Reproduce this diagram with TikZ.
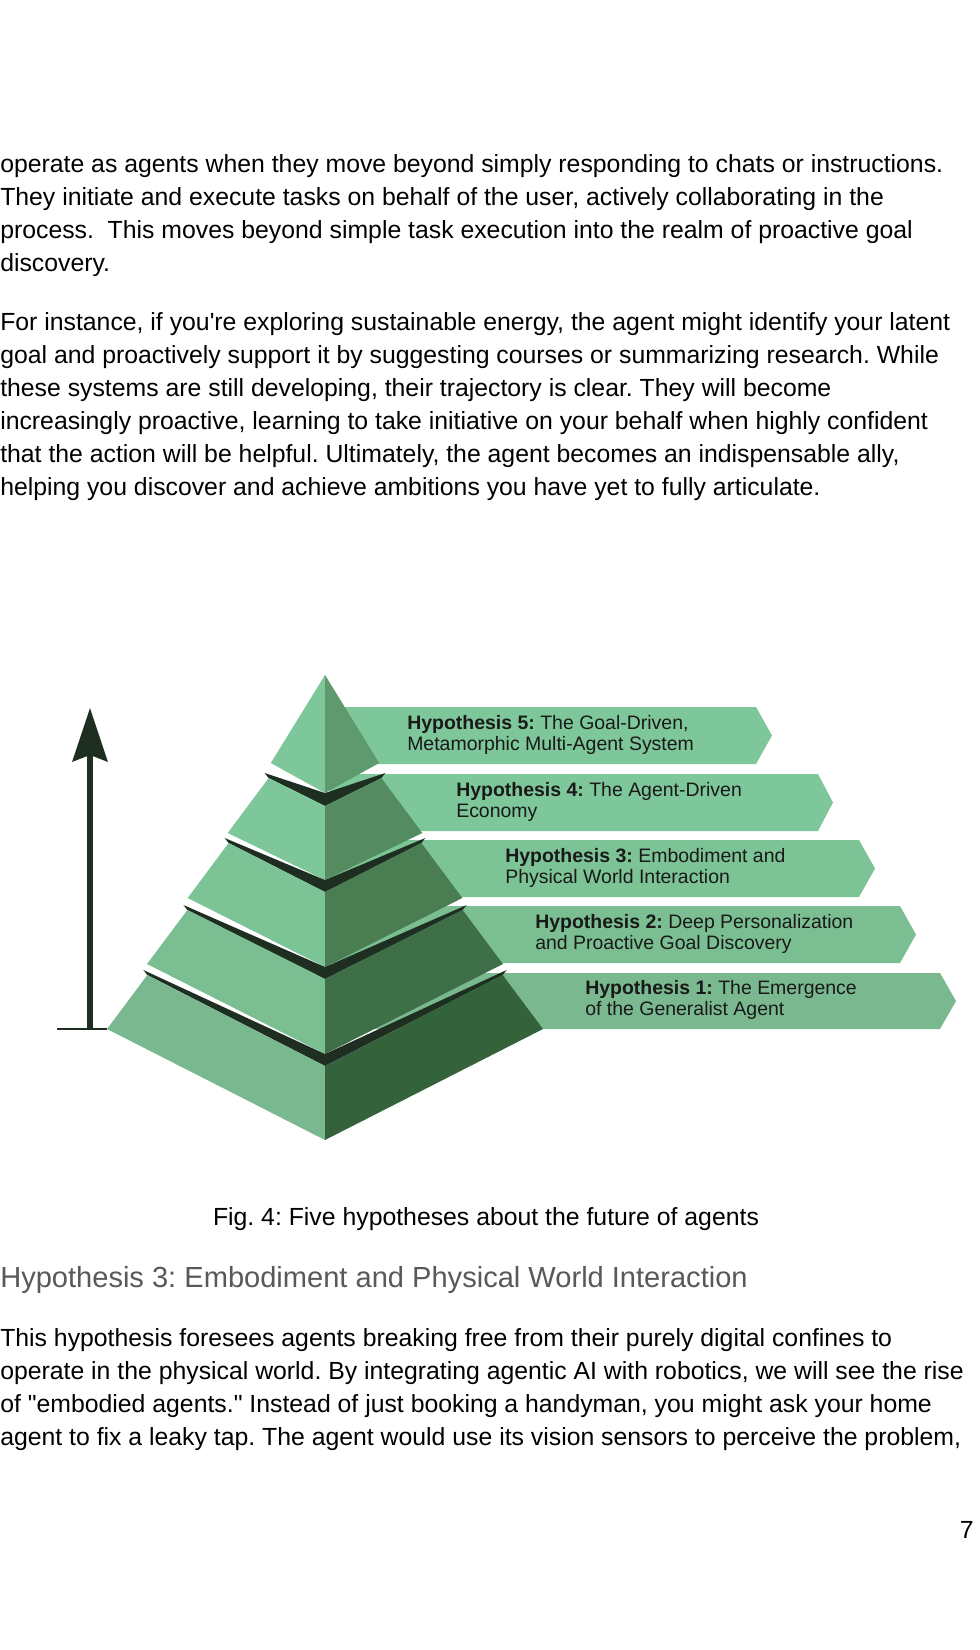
\documentclass[tikz,border=0pt]{standalone}
\usepackage{fontspec}
\setmainfont{Liberation Sans}[Ligatures=TeXOff]
\frenchspacing
\begin{document}
\begin{tikzpicture}[x=0.75pt,y=-0.75pt,
  body/.style={anchor=base west,inner sep=0pt,font=\fontsize{18.6pt}{22pt}\selectfont},
  lbl/.style={anchor=base west,inner sep=0pt,font=\fontsize{14.6pt}{17pt}\selectfont,text=black!90}]
\definecolor{bandc}{HTML}{1E2F22}
\definecolor{banc}{HTML}{7EC79A}
\useasboundingbox (0,0) rectangle (979,1650);
\fill[white] (0,0) rectangle (979,1650);
% body text
\node[body] (p1) at (0,172) {operate as agents when they move beyond simply responding to chats or instructions.};
\node[body] (p2) at (0,205) {They initiate and execute tasks on behalf of the user, actively collaborating in the};
\node[body] (p3) at (0,238) {process.\ \ This moves beyond simple task execution into the realm of proactive goal};
\node[body] (p4) at (0,271) {discovery.};
\node[body] (q1) at (0,330) {For instance, if you're exploring sustainable energy, the agent might identify your latent};
\node[body] (q2) at (0,363) {goal and proactively support it by suggesting courses or summarizing research. While};
\node[body] (q3) at (0,396) {these systems are still developing, their trajectory is clear. They will become};
\node[body] (q4) at (0,429) {increasingly proactive, learning to take initiative on your behalf when highly confident};
\node[body] (q5) at (0,462) {that the action will be helpful. Ultimately, the agent becomes an indispensable ally,};
\node[body] (q6) at (0,495) {helping you discover and achieve ambitions you have yet to fully articulate.};
% banners (drawn behind pyramid)
\foreach \t/\b/\f/\tip/\c in {707/764/756/772/7EC79A, 774/831/818/833/7EC79A, 840/897/859/875/7CC496, 906/963/900/916/7BBE92, 973/1029/940/956/7AB98F}{
  \definecolor{tmp}{HTML}{\c}
  \fill[tmp] (330,\t) -- (\f,\t) -- (\tip,{(\t+\b)/2}) -- (\f,\b) -- (330,\b) -- cycle;
}
% pyramid tiers: edge x(y)=325-(y-675)*0.6158
\def\ex#1{(325-(#1-675)*0.6158)}
\def\rx#1{(325+(#1-675)*0.6158)}
% tier 5 (top)
\fill[banc] (325,675) -- ({\ex{763}},763) -- (325,793) -- cycle;
\definecolor{r5}{HTML}{5E9A6E}
\fill[r5] (325,675) -- ({\rx{763}},763) -- (325,793) -- cycle;
% generic tiers
\foreach \ty/\tc/\bc/\dc/\by/\lc/\rc in {773/793/806/880/833/7EC79A/548B60, 838/880/892/967/898/7CC496/4A7D52, 905/967/979/1054/964/7BBE92/3E6F48, 970/1054/1066/1140/1029/7AB98F/33623B}{
  \definecolor{lc}{HTML}{\lc}\definecolor{rc}{HTML}{\rc}
  \fill[bandc] ({\ex{\ty}},\ty) -- (325,\tc) -- ({\rx{\ty}},\ty) -- ({\rx{\ty}-4},{\ty+5}) -- (325,\bc) -- ({\ex{\ty}+4},{\ty+5}) -- cycle;
  \fill[lc] ({\ex{\ty}+4},{\ty+5}) -- (325,\bc) -- (325,\dc) -- ({\ex{\by}},\by) -- cycle;
  \fill[rc] ({\rx{\ty}-4},{\ty+5}) -- (325,\bc) -- (325,\dc) -- ({\rx{\by}},\by) -- cycle;
}
% banner labels
\node[lbl] (h5a) at (407,729) {\textbf{Hypothesis 5:} The Goal-Driven,};
\node[lbl] (h5b) at (407,750) {Metamorphic Multi-Agent System};
\node[lbl] (h4a) at (456,796) {\textbf{Hypothesis 4:} The Agent-Driven};
\node[lbl] (h4b) at (456,817) {Economy};
\node[lbl] (h3a) at (505,862) {\textbf{Hypothesis 3:} Embodiment and};
\node[lbl] (h3b) at (505,883) {Physical World Interaction};
\node[lbl] (h2a) at (535,928) {\textbf{Hypothesis 2:} Deep Personalization};
\node[lbl] (h2b) at (535,949) {and Proactive Goal Discovery};
\node[lbl] (h1a) at (585,994) {\textbf{Hypothesis 1:} The Emergence};
\node[lbl] (h1b) at (585,1015) {of the Generalist Agent};
% arrow
\coordinate (ab) at (90,1029);
\coordinate (at) at (90,708);
\draw[bandc,line width=1.5] (57,1029) -- (107,1029);
\draw[bandc,line width=5] (ab) -- (90,755);
\fill[bandc] (at) -- (108,762) -- (90,755) -- (72,762) -- cycle;
% caption etc
\node[body,anchor=base] (cap) at (486,1225) {Fig. 4: Five hypotheses about the future of agents};
\node[anchor=base west,inner sep=0pt,font=\fontsize{21.8pt}{26pt}\selectfont,text=black!65] (hd) at (0,1287) {Hypothesis 3: Embodiment and Physical World Interaction};
\node[body] (r1) at (0,1346) {This hypothesis foresees agents breaking free from their purely digital confines to};
\node[body] (r2) at (0,1379) {operate in the physical world. By integrating agentic AI with robotics, we will see the rise};
\node[body] (r3) at (0,1412) {of "embodied agents." Instead of just booking a handyman, you might ask your home};
\node[body] (r4) at (0,1445) {agent to fix a leaky tap. The agent would use its vision sensors to perceive the problem,};
\node[body,anchor=base east] (pg) at (974,1538) {7};
\end{tikzpicture}
\end{document}
